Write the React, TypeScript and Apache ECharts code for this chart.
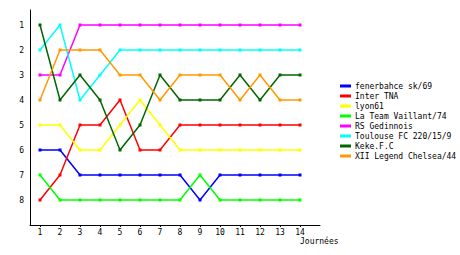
import React, { useEffect, useRef } from "react";
import * as echarts from "echarts";

const rounds = [1, 2, 3, 4, 5, 6, 7, 8, 9, 10, 11, 12, 13, 14];
const rankTicks = [1, 2, 3, 4, 5, 6, 7, 8];
const teamNames = [
  "fenerbahce sk/69",
  "Inter TNA",
  "lyon61",
  "La Team Vaillant/74",
  "RS Gedinnois",
  "Toulouse FC 220/15/9",
  "Keke.F.C",
  "XII Legend Chelsea/44",
];
const fenerbahce = [6, 6, 7, 7, 7, 7, 7, 7, 8, 7, 7, 7, 7, 7];
const interTNA = [8, 7, 5, 5, 4, 6, 6, 5, 5, 5, 5, 5, 5, 5];
const lyon61 = [5, 5, 6, 6, 5, 4, 5, 6, 6, 6, 6, 6, 6, 6];
const laTeam = [7, 8, 8, 8, 8, 8, 8, 8, 7, 8, 8, 8, 8, 8];
const rsGedinnois = [3, 3, 1, 1, 1, 1, 1, 1, 1, 1, 1, 1, 1, 1];
const toulouse = [2, 1, 4, 3, 2, 2, 2, 2, 2, 2, 2, 2, 2, 2];
const keke = [1, 4, 3, 4, 6, 5, 3, 4, 4, 4, 3, 4, 3, 3];
const xiiLegend = [4, 2, 2, 2, 3, 3, 4, 3, 3, 3, 4, 3, 4, 4];
const allValues = [fenerbahce, interTNA, lyon61, laTeam, rsGedinnois, toulouse, keke, xiiLegend];
const colors = ["#0000ff", "#ff0000", "#ffff00", "#00ff00", "#ff00ff", "#00ffff", "#006600", "#ff9900"];

const FONT = "DejaVu Sans Mono";
const FS = 8;

export default function App() {
  const ref = useRef<HTMLDivElement>(null);
  useEffect(() => {
    if (!ref.current) return;
    const chart = echarts.init(ref.current, null, { renderer: "svg" });
    chart.setOption({
      animation: false,
      backgroundColor: "#ffffff",
      grid: { left: 30, right: 140, top: 10, bottom: 30 },
      legend: {
        orient: "vertical",
        left: 340,
        top: 81,
        padding: 0,
        itemGap: 0,
        itemWidth: 11,
        itemHeight: 3,
        icon: "rect",
        textStyle: { fontFamily: FONT, fontSize: FS, color: "#000", lineHeight: 10, padding: [0, 0, 0, -1] },
        data: teamNames,
      },
      xAxis: {
        type: "value",
        min: 0.5,
        max: 15,
        splitLine: { show: false },
        axisLine: { show: true, lineStyle: { color: "#000", width: 1 } },
        axisTick: { show: true, length: 2, lineStyle: { color: "#000" }, customValues: rounds },
        axisLabel: { fontFamily: FONT, fontSize: FS, color: "#000", margin: 3, lineHeight: 8, customValues: rounds },
      },
      yAxis: {
        type: "value",
        inverse: true,
        min: 0.4,
        max: 9,
        splitLine: { show: false },
        axisLine: { show: true, lineStyle: { color: "#000", width: 1 } },
        axisTick: { show: false },
        axisLabel: { fontFamily: FONT, fontSize: FS, color: "#000", margin: 6, customValues: rankTicks },
      },
      graphic: [
        {
          type: "text",
          left: 300,
          top: 237,
          style: { text: "Journées", fontFamily: FONT, fontSize: FS, fill: "#000" },
        },
      ],
      series: teamNames.map((name, i) => ({
        name,
        type: "line",
        data: rounds.map((r, j) => [r, allValues[i][j]]),
        color: colors[i],
        symbol: "rect",
        symbolSize: 3,
        showSymbol: true,
        lineStyle: { width: 1.5, color: colors[i] },
        itemStyle: { color: colors[i] },
      })),
    });
    return () => chart.dispose();
  }, []);
  return (
    <div
      ref={ref}
      style={{ position: "fixed", left: 0, top: 0, width: 460, height: 255, background: "#fff" }}
    />
  );
}
